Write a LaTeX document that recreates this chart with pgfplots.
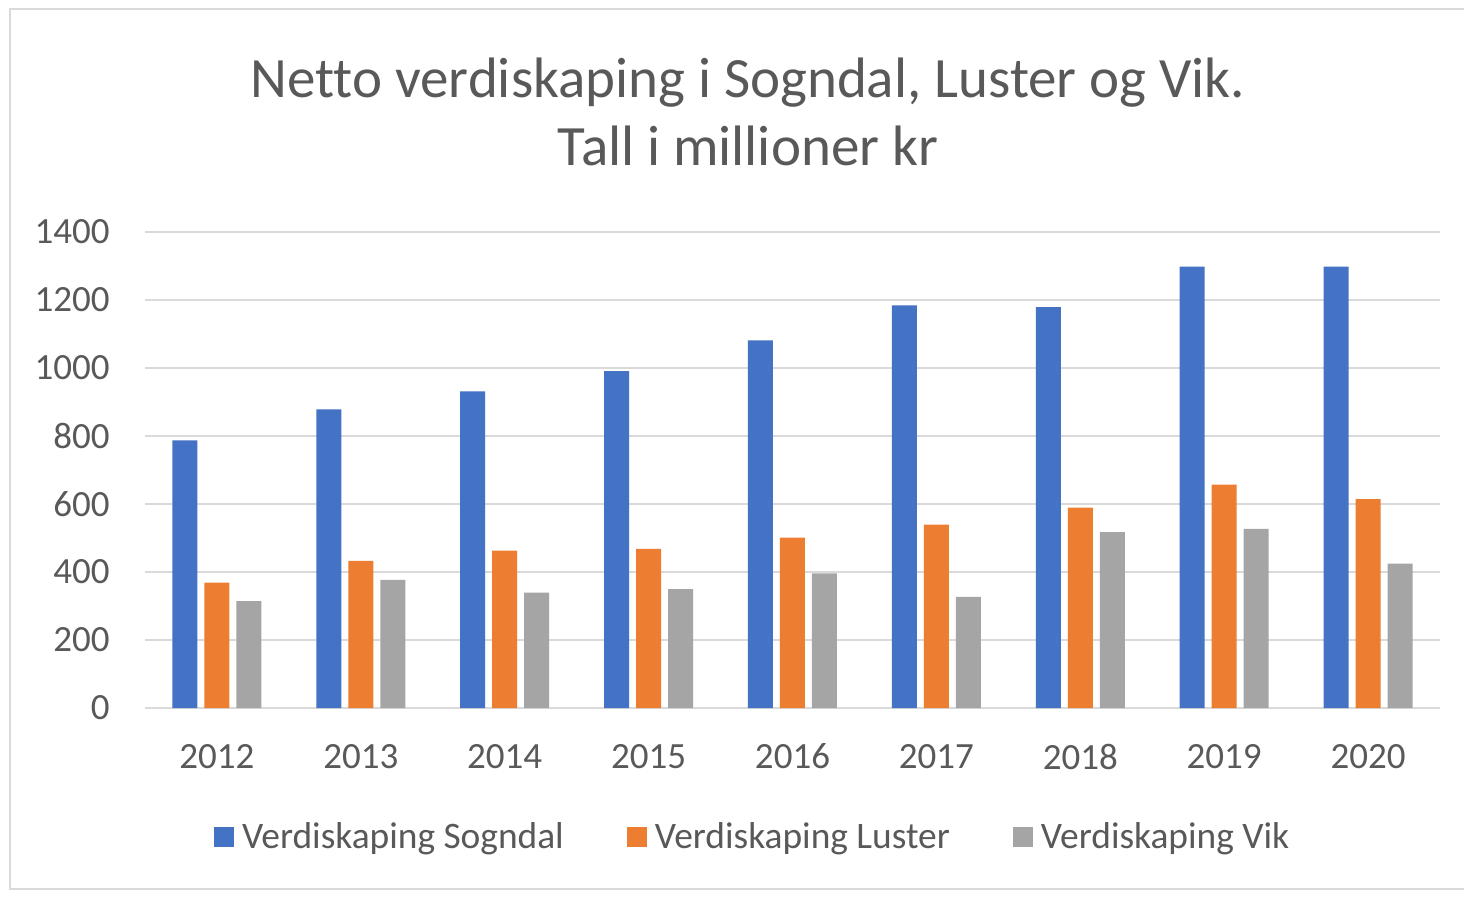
\documentclass[border=0pt]{standalone}
\usepackage{fontspec}
\setmainfont{Carlito}[Ligatures=NoCommon]
\usepackage{pgfplots}
\pgfplotsset{compat=1.18}
\definecolor{cS}{HTML}{4472C4}
\definecolor{cL}{HTML}{ED7D31}
\definecolor{cV}{HTML}{A5A5A5}
\definecolor{gridc}{HTML}{D9D9D9}
\definecolor{textc}{HTML}{595959}
\begin{document}
\begin{tikzpicture}
\useasboundingbox (0,0) rectangle (732pt,448pt);
\fill[white] (0,0) rectangle (732pt,448pt);
\draw[gridc, line width=1pt] (5pt,3.5pt) rectangle (745pt,443.5pt);
\begin{axis}[
  at={(72.5pt,94pt)}, anchor=south west,
  scale only axis, width=647.5pt, height=238pt,
  ymin=0, ymax=1400, ytick={0,200,...,1400},
  xmin=-0.5, xmax=8.5, xtick=data,
  xticklabels={2012,2013,2014,2015,2016,2017,2018,2019,2020},
  ybar=3.5pt, bar width=12.5pt,
  axis line style={draw=none}, major tick length=0pt,
  ymajorgrids, grid style={gridc, line width=0.8pt},
  /pgf/number format/assume math mode=true,
  /pgf/number format/1000 sep={},
  y tick label style={font=\fontsize{18.5}{20}\selectfont, text=textc, anchor=east, inner sep=0pt, xshift=-17.5pt},
  x tick label style={font=\fontsize{18.5}{20}\selectfont, text=textc, anchor=north, inner sep=0pt, yshift=-17.8pt},
  legend style={at={(axis description cs:0.470,-0.271)}, anchor=center, draw=none,
    font=\fontsize{18.7}{20}\selectfont, text=textc, legend columns=3,
    /tikz/every odd column/.append style={column sep=2pt},
    /tikz/every even column/.append style={column sep=29.5pt},
    nodes={inner sep=2pt}},
  legend image code/.code={\fill[#1] (0pt,-5pt) rectangle (10pt,5pt);},
  clip=false,
]
\addplot[fill=cS, draw=none] coordinates {(0,787) (1,878) (2,931) (3,991) (4,1081) (5,1184) (6,1179) (7,1298) (8,1298)};
\addplot[fill=cL, draw=none] coordinates {(0,369) (1,433) (2,463) (3,468) (4,501) (5,539) (6,589) (7,657) (8,614)};
\addplot[fill=cV, draw=none] coordinates {(0,314) (1,377) (2,339) (3,350) (4,396) (5,327) (6,517) (7,527) (8,425)};
\legend{Verdiskaping Sogndal, Verdiskaping Luster, Verdiskaping Vik}
\node[align=center, font=\fontsize{28.5}{34}\selectfont, text=textc] at (axis description cs:0.4656,1.252) {Netto verdiskaping i Sogndal, Luster og Vik.\\Tall i millioner kr};
\end{axis}
\end{tikzpicture}
\end{document}
